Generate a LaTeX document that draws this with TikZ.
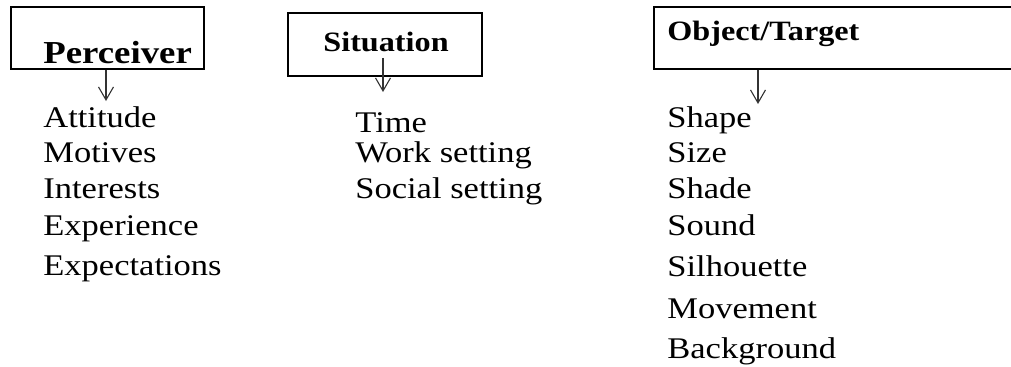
\documentclass[tikz,border=0pt]{standalone}
\usepackage{fontspec}
\setmainfont{Liberation Serif}[FakeStretch=1.15]
\usepackage{tikz}
\usetikzlibrary{arrows.meta,fit}

\tikzset{
  box/.style={draw, line width=0.65pt, inner sep=0pt},
  head/.style={anchor=base west, inner sep=0pt, font=\bfseries\fontsize{14}{17}\selectfont},
  item/.style={anchor=base west, inner sep=0pt, font=\fontsize{15}{18}\selectfont},
  arr/.style={-{Straight Barb[length=6.5pt,width=7.5pt]}, line width=0.55pt, black!80}
}

\begin{document}
\begin{tikzpicture}[x=0.5pt,y=-0.5pt]
\useasboundingbox (0,0) rectangle (1011,366);
\clip (0,0) rectangle (1011,366);

\node[box, fit={(11,7) (204,69)}] (pbox) {};
\node[box, fit={(288,13) (482,76)}] (sbox) {};
\node[box, fit={(654,7) (1020,69)}] (obox) {};

\node[head, font=\bfseries\fontsize{16}{19}\selectfont] (perc) at (43,63) {Perceiver};
\node[head] (sit) at (323,51) {Situation};
\node[head] (obj) at (667,40) {Object/Target};

\foreach \t/\y [count=\i] in {Attitude/127, Motives/162, Interests/198, Experience/235, Expectations/275}
  \node[item] (p\i) at (43,\y) {\t};
\foreach \t/\y [count=\i] in {Time/132, Work setting/162, Social setting/198}
  \node[item] (s\i) at (355,\y) {\t};
\foreach \t/\y [count=\i] in {Shape/127, Size/162, Shade/198, Sound/235, Silhouette/276, Movement/318, Background/358}
  \node[item] (o\i) at (667,\y) {\t};

\coordinate (pend) at (106,101);
\coordinate (send) at (383,92);
\coordinate (oend) at (758,104);
\draw[arr] (pbox.south -| pend) -- (pend);
\draw[arr] ([yshift=-3pt]sit.south -| send) -- (send);
\draw[arr] (obox.south -| oend) -- (oend);
\end{tikzpicture}
\end{document}
